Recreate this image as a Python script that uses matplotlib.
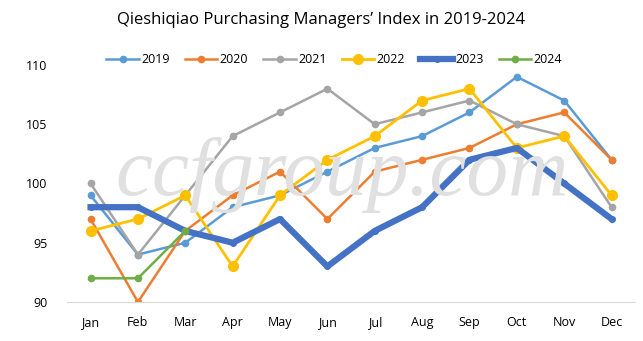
import numpy as np
import matplotlib.pyplot as plt

months = ["Jan", "Feb", "Mar", "Apr", "May", "Jun", "Jul", "Aug", "Sep", "Oct", "Nov", "Dec"]
pmi_2019 = [99, 94, 95, 98, 99, 101, 103, 104, 106, 109, 107, 102]
pmi_2020 = [97, 90, 96, 99, 101, 97, 101, 102, 103, 105, 106, 102]
pmi_2021 = [100, 94, 99, 104, 106, 108, 105, 106, 107, 105, 104, 98]
pmi_2022 = [96, 97, 99, 93, 99, 102, 104, 107, 108, 103, 104, 99]
pmi_2023 = [98, 98, 96, 95, 97, 93, 96, 98, 102, 103, 100, 97]
pmi_2024 = [92, 92, 96]

plt.rcParams['font.family'] = ['Open Sans', 'DejaVu Sans']

fig = plt.figure(figsize=(6.43, 3.41), dpi=100)
ax = fig.add_axes([0.104, 0.1144, 0.884, 0.695])

# watermark
fig.text(0.532, 0.428, "ccfgroup.com", fontsize=60, family="Liberation Serif",
         style="italic", color="#e0e0e0", ha="center", va="baseline", zorder=0)

x = np.arange(len(months))
series = [
    ("2019", pmi_2019, "#5B9BD5", 1.8, 4.5),
    ("2020", pmi_2020, "#ED7D31", 1.8, 4.5),
    ("2021", pmi_2021, "#A5A5A5", 1.8, 4.5),
    ("2022", pmi_2022, "#FFC000", 2.0, 7),
    ("2023", pmi_2023, "#4472C4", 4.5, 4),
    ("2024", pmi_2024, "#70AD47", 1.8, 4.5),
]
for name, vals, col, lw, ms in series:
    ax.plot(x[:len(vals)], vals, color=col, lw=lw, marker="o", ms=ms, label=name)

ax.set_xlim(-0.5, 11.5)
ax.set_ylim(90, 110)
ax.set_yticks([90, 95, 100, 105, 110])
ax.set_xticks(x)
ax.set_xticklabels(months)
ax.tick_params(length=0, labelsize=9, pad=10)
ax.tick_params(axis="y", pad=14)
for s in ["top", "right", "left"]:
    ax.spines[s].set_visible(False)
ax.spines["bottom"].set_color("#d9d9d9")
ax.patch.set_alpha(0)

fig.text(0.5, 0.94, "Qieshiqiao Purchasing Managers\u2019 Index in 2019-2024",
         ha="center", va="center", fontsize=12)
fig.legend(loc="center", bbox_to_anchor=(0.52, 0.825), ncol=6, frameon=False,
           fontsize=9, handlelength=2.6, columnspacing=1.2, handletextpad=0.2)

fig.savefig("out.png", dpi=100)
